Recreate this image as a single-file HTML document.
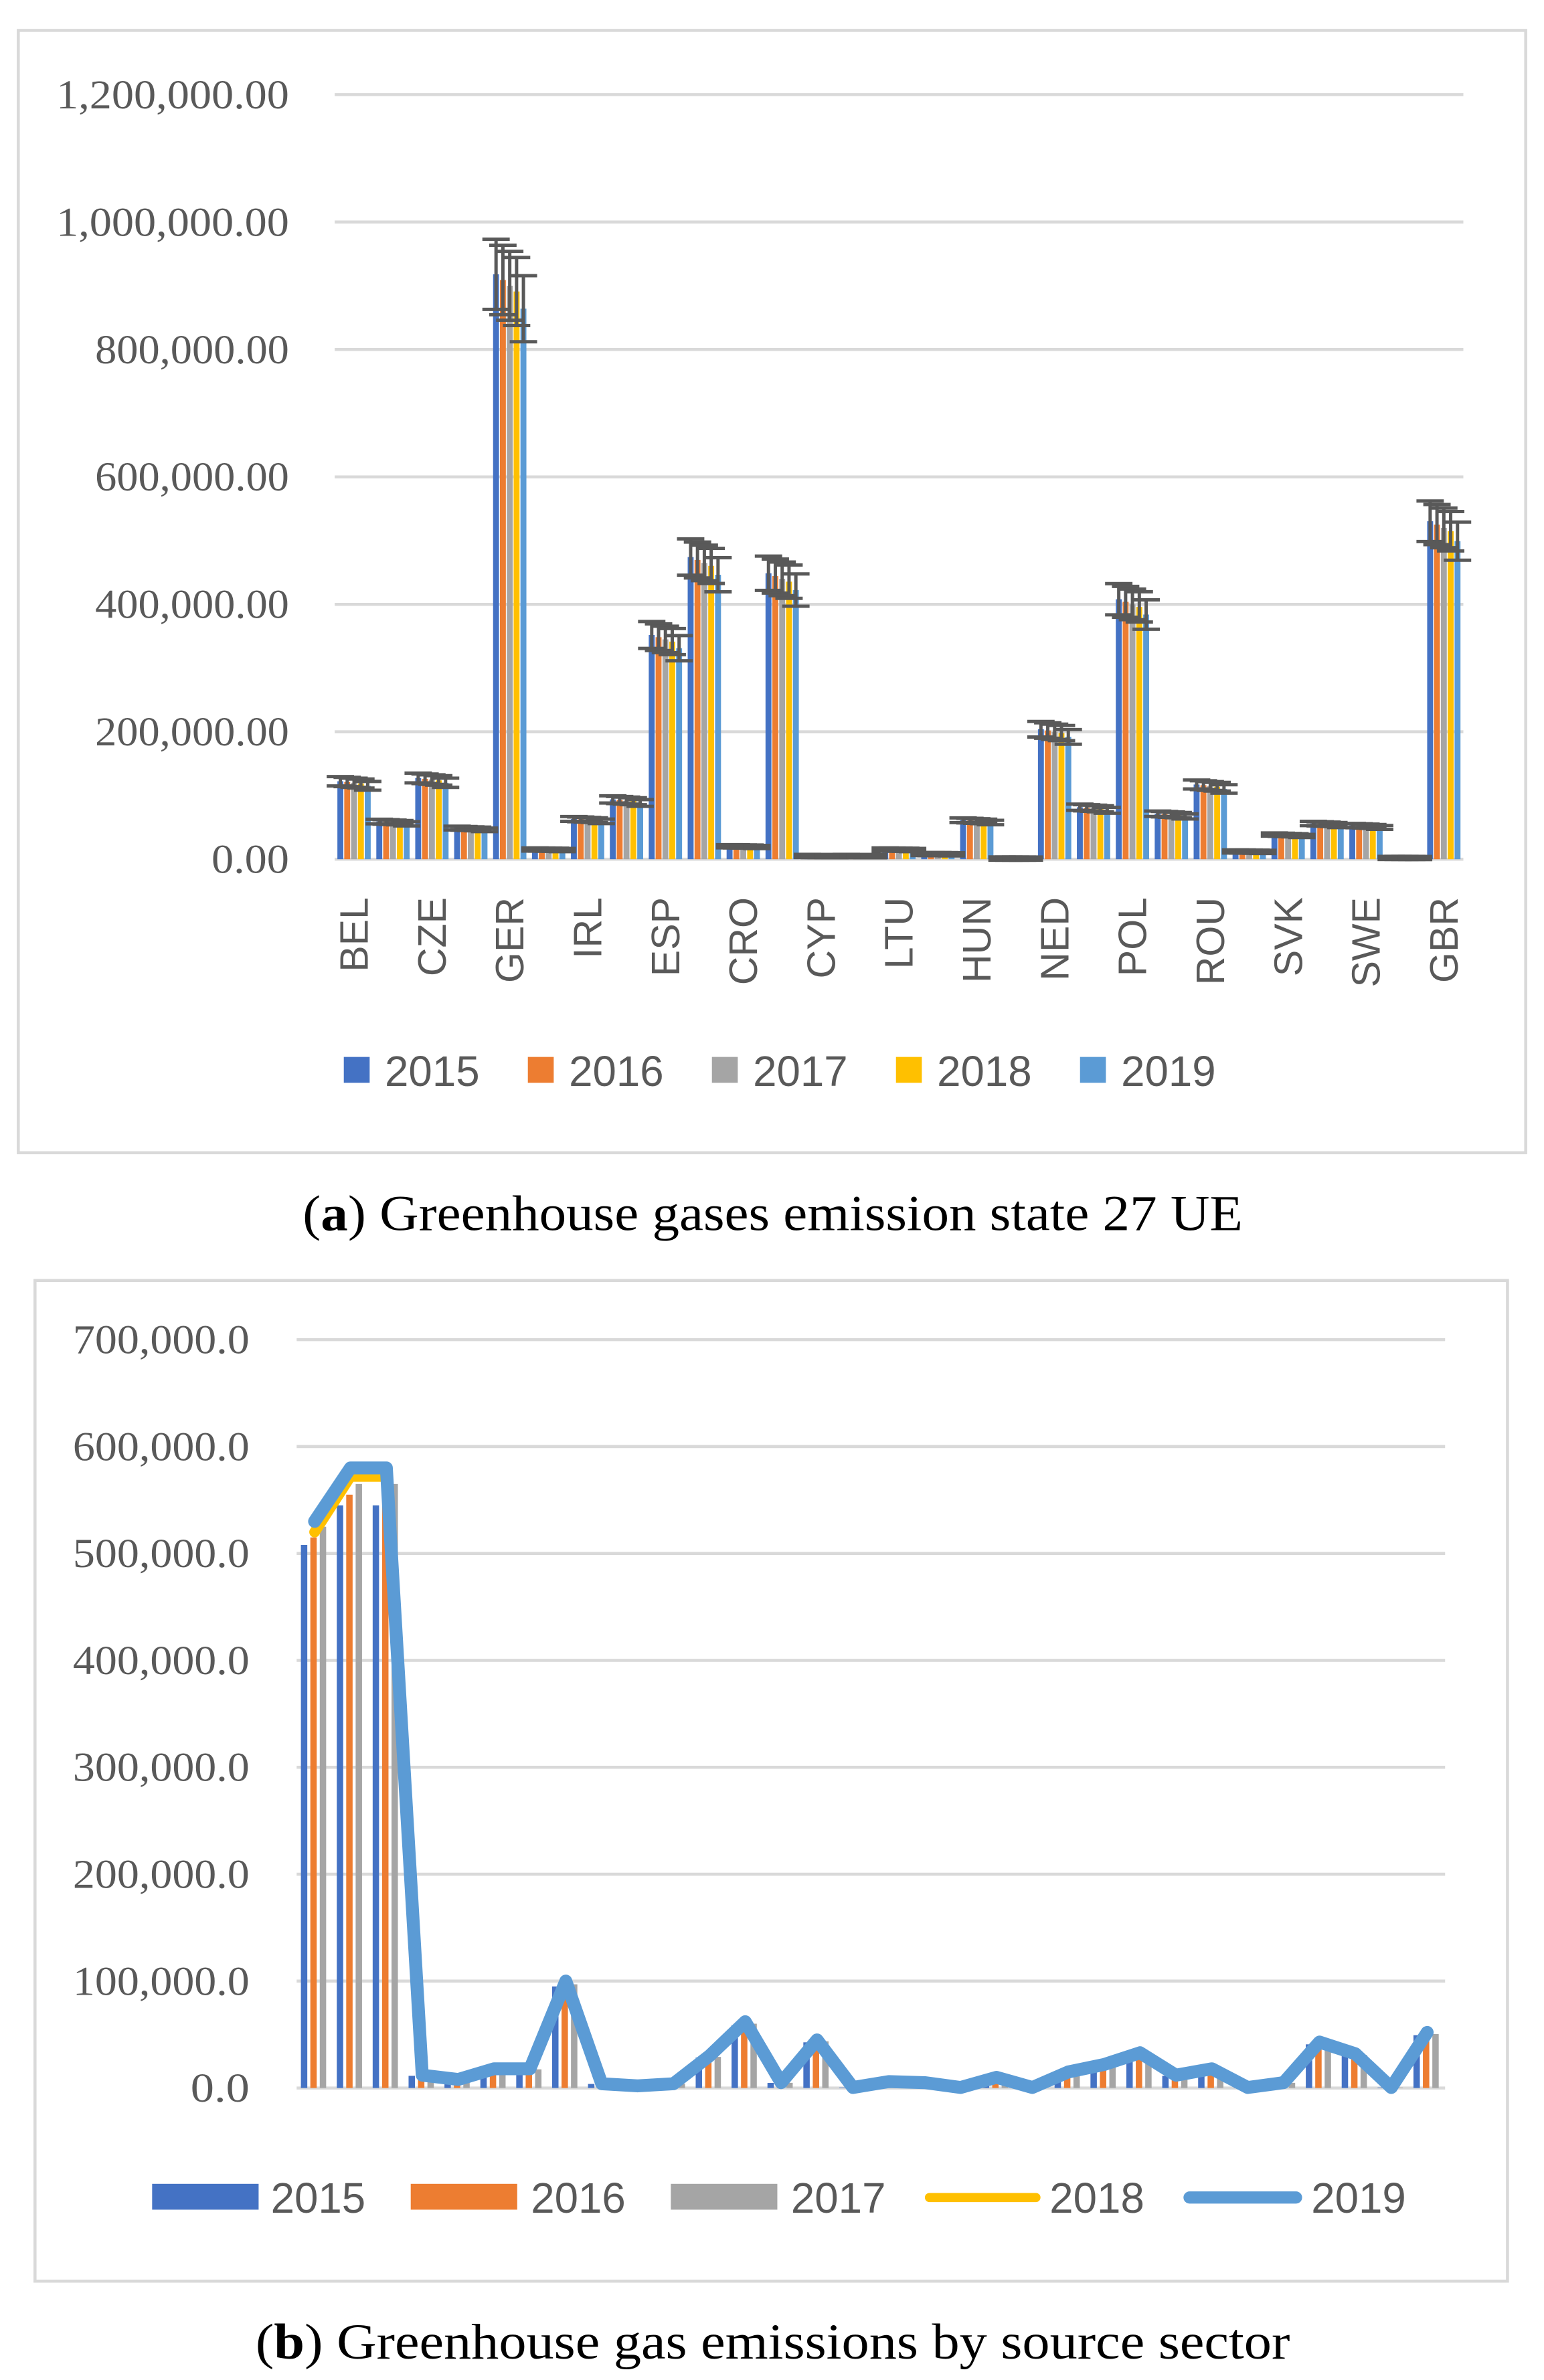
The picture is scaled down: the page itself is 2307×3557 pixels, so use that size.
<!DOCTYPE html>
<html><head><meta charset="utf-8"><style>html,body{margin:0;padding:0;background:#fff}svg{display:block}</style></head>
<body>
<svg id="s" xmlns="http://www.w3.org/2000/svg" width="2307" height="3557" viewBox="0 0 1015 1565">
<rect width="1015" height="1565" fill="#fff"/>
<rect x="12" y="20" width="991" height="738" fill="#fff" stroke="#d9d9d9" stroke-width="2"/>
<rect x="23" y="842" width="968" height="658" fill="#fff" stroke="#d9d9d9" stroke-width="2"/>
<g id="a"></g><g id="b"></g>
<text x="508" y="809" text-anchor="middle" font-family="Liberation Serif, serif" font-size="33" fill="#000" textLength="618" lengthAdjust="spacingAndGlyphs">(<tspan font-weight="bold">a</tspan>) Greenhouse gases emission state 27 UE</text>
<text x="508" y="1551" text-anchor="middle" font-family="Liberation Serif, serif" font-size="33" fill="#000" textLength="680" lengthAdjust="spacingAndGlyphs">(<tspan font-weight="bold">b</tspan>) Greenhouse gas emissions by source sector</text>
</svg>
<script>
var C=["#4472c4","#ed7d31","#a5a5a5","#ffc000","#5b9bd5"];
var h='';
var y0=565,pp=83.8/200000,L=220,R=962;
var ticks=["0.00","200,000.00","400,000.00","600,000.00","800,000.00","1,000,000.00","1,200,000.00"];
var tw=[52,0,0,0,0,0,153];
for(var i=0;i<7;i++){var y=y0-i*83.8;h+='<line x1="'+L+'" x2="'+R+'" y1="'+y+'" y2="'+y+'" stroke="#d9d9d9" stroke-width="2"/>';
h+='<text x="190" y="'+(y+9)+'" text-anchor="end" font-family="Liberation Serif, serif" font-size="27" fill="#595959" textLength="'+(ticks[i].length*12.75)+'" lengthAdjust="spacingAndGlyphs">'+ticks[i]+'</text>';}
var va=[120,58,125,48,900,15,62,92,345,465,20,440,5,5,15,8,60,1,200,80,400,70,115,12,38,55,52,2,520];
var mul=[1.02,1.01,1,0.99,0.96];
var labs=["BEL","CZE","GER","IRL","ESP","CRO","CYP","LTU","HUN","NED","POL","ROU","SVK","SWE","GBR"];
var cw=(R-L)/29;
var eb='';
for(var c=0;c<29;c++){var cx=L+(c+0.5)*cw;var gx=cx-11;
for(var k=0;k<5;k++){var v=va[c]*1000*mul[k];var bh=v*pp;var x=gx+k*4.5;
h+='<rect x="'+x.toFixed(2)+'" y="'+(y0-bh).toFixed(2)+'" width="3.9" height="'+bh.toFixed(2)+'" fill="'+C[k]+'"/>';
var e=Math.max(v*0.06,2500)*pp;var xm=x+1.95,ty=y0-bh;
eb+='<path d="M'+xm+' '+(ty-e)+'V'+(ty+e)+'M'+(xm-9)+' '+(ty-e)+'H'+(xm+9)+'M'+(xm-9)+' '+(ty+e)+'H'+(xm+9)+'" stroke="#595959" stroke-width="2.2" fill="none"/>';}
if(c%2==0){h+='<text transform="translate('+(cx+9)+',590) rotate(-90)" text-anchor="end" font-family="Liberation Sans, sans-serif" font-size="26" fill="#595959">'+labs[c/2]+'</text>';}}
h+=eb;
var yrs=["2015","2016","2017","2018","2019"];
for(var k=0;k<5;k++){var lx=226+k*121;h+='<rect x="'+lx+'" y="695" width="17" height="17" fill="'+C[k]+'"/><text x="'+(lx+27)+'" y="714" font-family="Liberation Sans, sans-serif" font-size="28" fill="#595959">'+yrs[k]+'</text>';}
document.getElementById('a').innerHTML=h;
h='';var b0=1373,pb=70.3/100000,L2=195,R2=950;
for(var i=0;i<8;i++){var y=b0-i*70.3;h+='<line x1="'+L2+'" x2="'+R2+'" y1="'+y+'" y2="'+y+'" stroke="#d9d9d9" stroke-width="2"/>';
var t=(i==0?"0.0":(i*100)+",000.0");
h+='<text x="164" y="'+(y+9)+'" text-anchor="end" font-family="Liberation Serif, serif" font-size="27" fill="#595959" textLength="'+(t.length*12.9)+'" lengthAdjust="spacingAndGlyphs">'+t+'</text>';}
var vb=[530,580,580,12,8,18,18,100,4,2,4,30,62,5,45,0.5,6,5,0.5,10,0.5,15,22,33,12,18,0.5,5,43,32,0.5,52];
var cw2=(R2-L2)/32;var p18='',p19='';
for(var c=0;c<32;c++){var cx=L2+(c+0.5)*cw2;
var bv=c==0?[508,515,525]:c==1?[545,555,565]:c==2?[545,565,565]:[vb[c]*0.95,vb[c]*0.93,vb[c]*0.97];
for(var k=0;k<3;k++){var bh=bv[k]*1000*pb;h+='<rect x="'+(cx-9+k*6.2).toFixed(2)+'" y="'+(b0-bh).toFixed(2)+'" width="4.2" height="'+bh.toFixed(2)+'" fill="'+C[k]+'"/>';}
var v18=c==0?520:c<3?572:vb[c];
p18+=(c?'L':'M')+cx.toFixed(2)+' '+(b0-v18*1000*pb).toFixed(2);
p19+=(c?'L':'M')+cx.toFixed(2)+' '+(b0-vb[c]*1000*pb).toFixed(2);}
h+='<path d="'+p18+'" stroke="#ffc000" stroke-width="7" fill="none" stroke-linejoin="round" stroke-linecap="round"/>';
h+='<path d="'+p19+'" stroke="#5b9bd5" stroke-width="8.5" fill="none" stroke-linejoin="round" stroke-linecap="round"/>';
var lg=[[100,178,"2015",0,"r"],[270,349,"2016",1,"r"],[441,520,"2017",2,"r"],[611,690,"2018",3,"l"],[782,862,"2019",4,"l"]];
lg.forEach(function(g){if(g[4]=="r")h+='<rect x="'+g[0]+'" y="1436" width="70" height="17" fill="'+C[g[3]]+'"/>';
else h+='<line x1="'+g[0]+'" x2="'+(g[0]+70)+'" y1="1445" y2="1445" stroke="'+C[g[3]]+'" stroke-width="'+(g[3]==4?8:6)+'" stroke-linecap="round"/>';
h+='<text x="'+g[1]+'" y="1455" font-family="Liberation Sans, sans-serif" font-size="28" fill="#595959">'+g[2]+'</text>';});
document.getElementById('b').innerHTML=h;
</script>
</body></html>
